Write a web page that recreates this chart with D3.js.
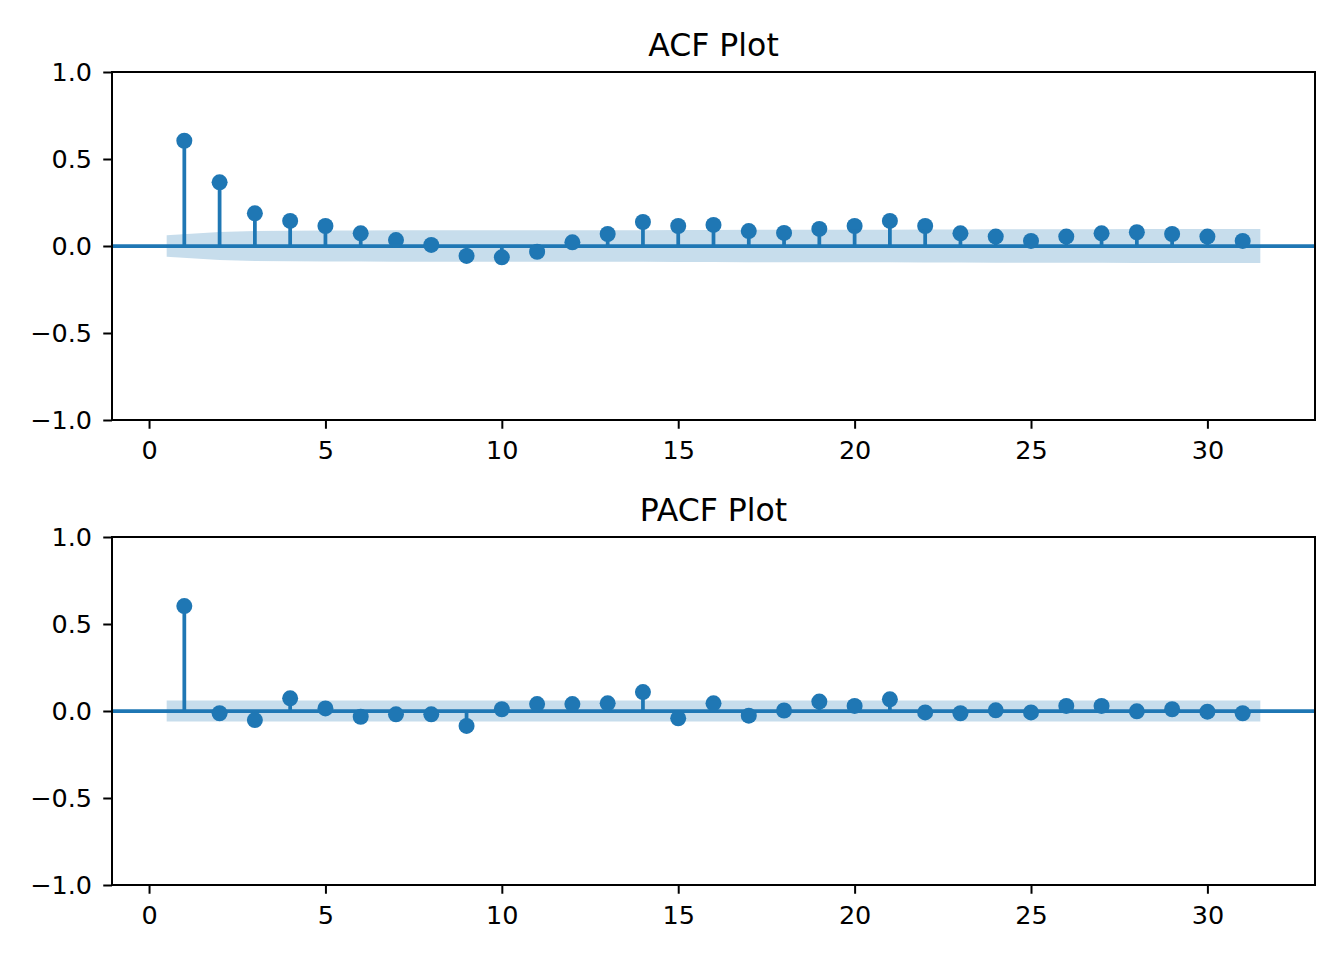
<!DOCTYPE html>
<html>
<head>
<meta charset="utf-8">
<script src="https://cdn.jsdelivr.net/npm/d3@7"></script>
<style>
	body { margin: 0; background: #fff; }
	svg { font-family: "DejaVu Sans", sans-serif; }
</style>
</head>
<body>
<div class="chart"></div>
<script>
// lags 1..31 (lag 0 skipped)
const lags = d3.range(1, 32);

const acfValues = [0.605, 0.366, 0.188, 0.144, 0.115, 0.073, 0.034, 0.006, -0.057, -0.065,
	-0.033, 0.021, 0.069, 0.138, 0.115, 0.121, 0.086, 0.075, 0.098, 0.115,
	0.144, 0.115, 0.073, 0.054, 0.029, 0.054, 0.073, 0.079, 0.069, 0.054, 0.029];

// half width of the confidence band at each lag
const acfBand = [0.062, 0.080, 0.086, 0.088, 0.089, 0.089, 0.090, 0.090, 0.090, 0.090,
	0.090, 0.091, 0.091, 0.091, 0.092, 0.092, 0.093, 0.093, 0.094, 0.094,
	0.094, 0.095, 0.095, 0.096, 0.096, 0.096, 0.096, 0.097, 0.097, 0.097, 0.097];

const pacfValues = [0.603, -0.013, -0.052, 0.073, 0.015, -0.033, -0.019, -0.019, -0.086, 0.010,
	0.040, 0.040, 0.044, 0.109, -0.042, 0.044, -0.027, 0.003, 0.054, 0.029,
	0.067, -0.008, -0.013, 0.004, -0.008, 0.029, 0.029, -0.002, 0.010, -0.004, -0.013];

const pacfBand = [0.061, 0.061, 0.061, 0.061, 0.061, 0.061, 0.061, 0.061, 0.061, 0.061,
	0.061, 0.061, 0.061, 0.061, 0.061, 0.061, 0.061, 0.061, 0.061, 0.061,
	0.061, 0.061, 0.061, 0.061, 0.061, 0.061, 0.061, 0.061, 0.061, 0.061, 0.061];

const xTicks = [0, 5, 10, 15, 20, 25, 30];
const yTicks = [-1.0, -0.5, 0.0, 0.5, 1.0];

const width = 1344;
const height = 960;
const blue = "#1f77b4";

const svg = d3.select('.chart')
			.append('svg')
			.attr('width', width)
			.attr('height', height);

function renderCorrPlot(top, bottom, title, values, band) {
	const left = 112, right = 1315;
	const x = d3.scaleLinear().domain([-1.05, 33.05]).range([left, right]);
	const y = d3.scaleLinear().domain([-1, 1]).range([bottom, top]);
	const g = svg.append("g");

	// stems
	g.selectAll(".stem")
		.data(lags)
		.enter()
		.append("line")
		.attr("x1", d => x(d))
		.attr("x2", d => x(d))
		.attr("y1", y(0))
		.attr("y2", (d, i) => y(values[i]))
		.attr("stroke", blue)
		.attr("stroke-width", 3.75);

	// zero line
	g.append("line")
		.attr("x1", left)
		.attr("x2", right)
		.attr("y1", y(0))
		.attr("y2", y(0))
		.attr("stroke", blue)
		.attr("stroke-width", 3.75);

	// markers
	g.selectAll(".dot")
		.data(lags)
		.enter()
		.append("circle")
		.attr("cx", d => x(d))
		.attr("cy", (d, i) => y(values[i]))
		.attr("r", 8)
		.attr("fill", blue);

	// confidence band, first and last lag pushed out by half a lag
	const bandX = lags.map((d, i) => {
		if (i === 0) return d - 0.5;
		if (i === lags.length - 1) return d + 0.5;
		return d;
	});
	const area = d3.area()
		.x((d, i) => x(bandX[i]))
		.y0(d => y(-d))
		.y1(d => y(d));
	g.append("path")
		.datum(band)
		.attr("d", area)
		.attr("fill", blue)
		.attr("fill-opacity", 0.25);

	// axes
	const xAxis = g.append("g")
		.attr("transform", `translate(0,${bottom})`)
		.call(d3.axisBottom(x).tickValues(xTicks).tickFormat(d3.format("d")).tickSize(8.75).tickPadding(12.5));
	const yAxis = g.append("g")
		.attr("transform", `translate(${left},0)`)
		.call(d3.axisLeft(y).tickValues(yTicks).tickFormat(d3.format(".1f")).tickSize(8.75).tickPadding(11.25));
	[xAxis, yAxis].forEach(a => {
		a.select(".domain").remove();
		a.selectAll(".tick line").attr("stroke", "#000").attr("stroke-width", 2);
		a.selectAll(".tick text")
			.attr("fill", "#000")
			.attr("font-size", "25.5px")
			.attr("font-family", "DejaVu Sans");
	});

	// frame
	g.append("rect")
		.attr("x", left)
		.attr("y", top)
		.attr("width", right - left)
		.attr("height", bottom - top)
		.attr("fill", "none")
		.attr("stroke", "#000")
		.attr("stroke-width", 2);

	g.append("text")
		.text(title)
		.attr("x", (left + right) / 2)
		.attr("y", top - 16)
		.attr("text-anchor", "middle")
		.attr("font-size", "31.5px")
		.attr("fill", "#000");
}

renderCorrPlot(72, 420, "ACF Plot", acfValues, acfBand);
renderCorrPlot(537, 885, "PACF Plot", pacfValues, pacfBand);
</script>
</body>
</html>
